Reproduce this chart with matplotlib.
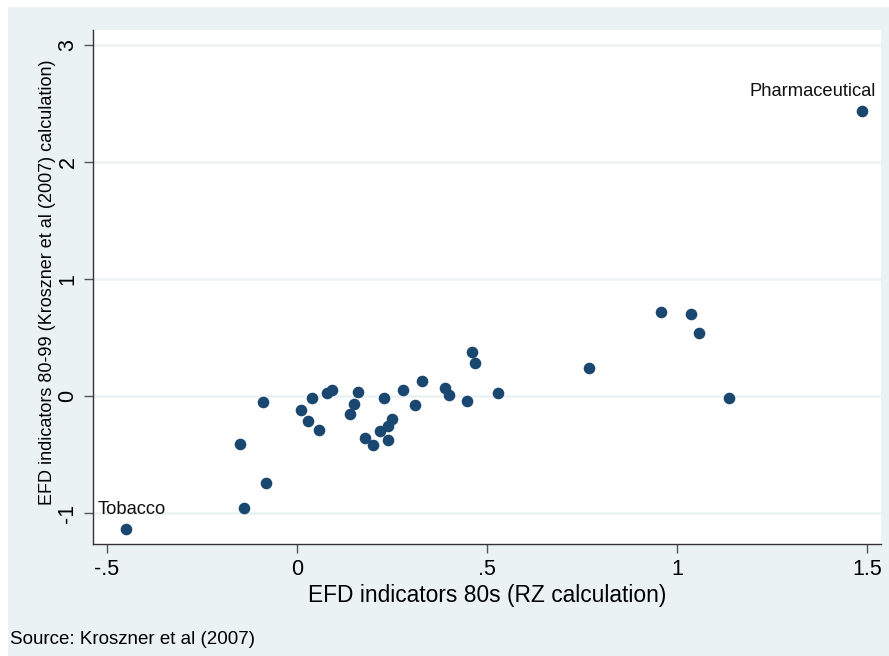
import matplotlib
matplotlib.use("Agg")
import matplotlib.pyplot as plt
from matplotlib.patches import Rectangle

plt.rcParams['font.family'] = ['Liberation Sans', 'DejaVu Sans']

x_vals = [-0.450, -0.139, -0.082, -0.150, -0.090, 0.010, 0.029, 0.039, 0.059, 0.078,
          0.091, 0.139, 0.150, 0.160, 0.180, 0.200, 0.219, 0.229, 0.239, 0.250,
          0.239, 0.280, 0.311, 0.329, 0.389, 0.399, 0.448, 0.460, 0.468, 0.528,
          0.769, 0.958, 1.038, 1.058, 1.138, 1.487]
y_vals = [-1.137, -0.957, -0.744, -0.412, -0.049, -0.122, -0.211, -0.019, -0.291, 0.028,
          0.051, -0.154, -0.071, 0.031, -0.355, -0.420, -0.299, -0.019, -0.253, -0.193,
          -0.379, 0.051, -0.080, 0.128, 0.065, 0.006, -0.040, 0.380, 0.281, 0.028,
          0.243, 0.718, 0.701, 0.536, -0.017, 2.436]
labels = {0: "Tobacco", 35: "Pharmaceutical"}

x_ticks = [-0.5, 0, 0.5, 1, 1.5]
x_tick_labels = ["-.5", "0", ".5", "1", "1.5"]
y_ticks = [-1, 0, 1, 2, 3]
y_tick_labels = ["-1", "0", "1", "2", "3"]

W, H = 889, 656
fig = plt.figure(figsize=(W / 100, H / 100), dpi=100)
fig.patch.set_facecolor("white")
bg = "#EAF2F3"
fig.add_artist(Rectangle((8 / W, 0), 1 - 8 / W, 1 - 7 / H, transform=fig.transFigure,
                         facecolor=bg, edgecolor="none", zorder=-10))

ax = fig.add_axes([93 / W, (656 - 544) / H, (881 - 93) / W, (544 - 30) / H])
ax.set_zorder(1)
ax.set_facecolor("white")
ax.set_xlim(-0.5368, 1.5368)
ax.set_ylim(-1.265, 3.128)

for yt in y_ticks:
    ax.axhline(yt, color=bg, lw=1.8, zorder=1)

ax.scatter(x_vals, y_vals, s=70, color="#1A476F", zorder=3, linewidths=0)

ax.annotate(labels[35], (x_vals[35], y_vals[35]), xytext=(14, 19), textcoords="offset pixels",
            ha="right", va="center", fontsize=13.2, color="#111111")
ax.annotate(labels[0], (x_vals[0], y_vals[0]), xytext=(-28, 20), textcoords="offset pixels",
            ha="left", va="center", fontsize=13.2, color="#111111")

for s in ["top", "right"]:
    ax.spines[s].set_visible(False)
for s in ["left", "bottom"]:
    ax.spines[s].set_color("#333333")
    ax.spines[s].set_linewidth(1.0)

ax.set_xticks(x_ticks)
ax.set_xticklabels(x_tick_labels)
ax.set_yticks(y_ticks)
ax.set_yticklabels(y_tick_labels, rotation=90, va="center")
ax.tick_params(axis="both", length=6.5, width=1.0, color="#555555", labelsize=15.5, pad=4)

ax.set_xlabel("EFD indicators 80s (RZ calculation)", fontsize=16.4, labelpad=3)
ax.set_ylabel("EFD indicators 80-99 (Kroszner et al (2007) calculation)", fontsize=13.0, labelpad=1)
ax.yaxis.label.set_y((544 - 282.5) / 514)

fig.text(10 / W, 1 - 640 / H, "Source: Kroszner et al (2007)", fontsize=13.5, ha="left", va="center")

fig.savefig("out.png", dpi=100, facecolor=fig.get_facecolor())
